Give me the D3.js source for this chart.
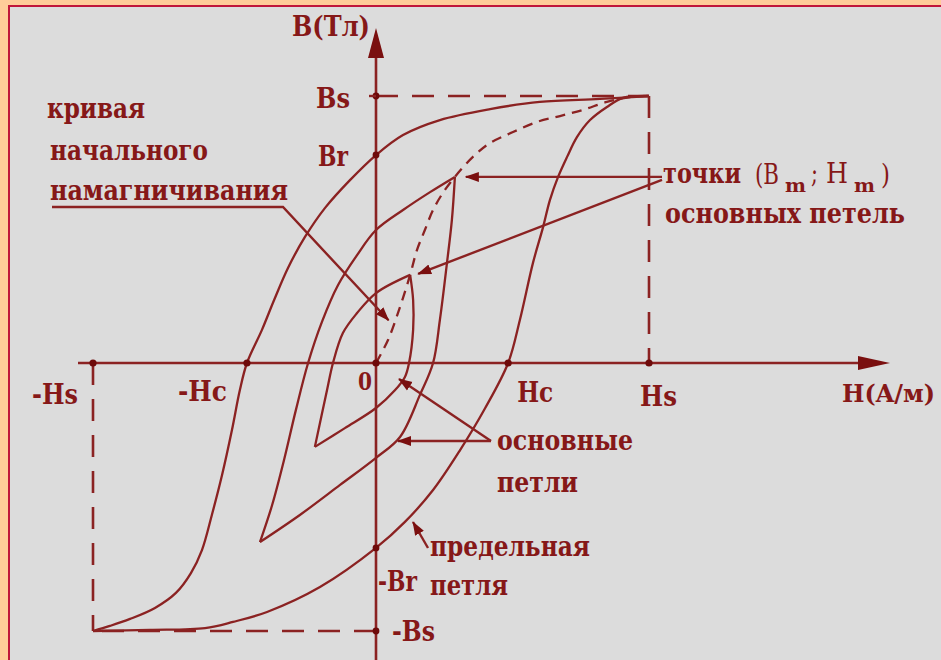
<!DOCTYPE html>
<html>
<head>
<meta charset="utf-8">
<script src="https://cdn.jsdelivr.net/npm/d3@7"></script>
<style>
  html, body { margin: 0; padding: 0; background: #FFCC99; }
  svg { display: block; }
</style>
</head>
<body>
<svg id="chart" width="941" height="660"></svg>
<script>
// Field strength H and induction B, in percent of saturation (Hs, Bs).

// limiting loop, descending branch (from +Bs to -Bs)
const limitDown = [[100,100],[82,98.9],[60,97.8],[41.8,95.1],[23.4,91],[9.9,85.4],[0,77.9],
  [-9.2,68.5],[-18,58.1],[-25.1,47.2],[-31.1,35.6],[-36,23.6],[-40.3,12.4],[-45.6,0],
  [-48.1,-10.1],[-50.9,-25],[-54.4,-41.8],[-58,-56.7],[-61.5,-69.8],[-65.4,-78.4],
  [-70.7,-85.8],[-78.1,-91.4],[-86.9,-95.5],[-94,-98.1],[-100,-100]];
// limiting loop, ascending branch (from -Bs to +Bs)
const limitUp = [[-100,-100],[-79.9,-99.6],[-60.4,-98.9],[-50.5,-96.6],[-38.5,-92.9],
  [-19.8,-83.6],[0,-69],[10.6,-59.3],[20.9,-47.4],[30.8,-32.5],[40,-16.8],[48.4,0],
  [52.7,16.1],[57.5,37.5],[61.2,50.9],[63.7,61],[66.7,69.7],[70,77.2],[73.6,84.6],
  [78.4,91],[84.6,95.9],[90.5,99.3],[100,100]];
// initial magnetization curve
const initialCurve = [[0,0],[4.4,8.6],[8.8,21],[12.5,33],[15,42.3],[17.9,49.8],[20.9,57.3],
  [24.5,63.7],[28.9,69.7],[35.5,77.2],[41.8,82.4],[50.2,86.5],[59,90.3],[67.4,92.5],
  [75.8,94.8],[84.6,97.8],[93,99.6],[100,100]];
// larger minor loop
const midDown = [[28.9,69.7],[19.8,64],[9.9,57.3],[0,49.8],[-6.7,40.4],[-13.4,29.2],
  [-19.1,15.4],[-24,0],[-28.3,-17.5],[-32.5,-36.2],[-36.7,-53],[-41,-66.8]];
const midUp = [[-41,-66.8],[-26.9,-56.7],[-12.7,-45.5],[0,-35.4],[8.8,-27.6],[16.1,-11.9],
  [20.9,0],[23.4,16.1],[26,37.5],[27.8,53.6],[28.9,69.7]];
// smaller minor loop
const smallDown = [[12.5,33],[0,26.2],[-6.7,18.7],[-11.7,11.2],[-15.2,0],[-17.3,-10.1],[-21.6,-31.3]];
const smallUp = [[-21.6,-31.3],[-11,-24.3],[0,-16.8],[7,-10.1],[10.6,-5.2],[12.1,0],
  [13.6,12.4],[13.6,23.6],[12.5,33]];

// axis marks
const hTickValues = [-100, -45.6, 48.4, 100];
const hTickLabels = ["-Hs", "-Hc", "Hc", "Hs"];
const bTickValues = [100, 77.9, -69, -100];
const bTickLabels = ["Bs", "Br", "-Br", "-Bs"];
const axisTitles = ["B(Тл)", "H(A/м)"];
const originLabel = "0";

// annotation texts
const initialLabel = ["кривая", "начального", "намагничивания"];
const tipsLabel = ["точки", "основных петель"];
const minorLabel = ["основные", "петли"];
const limitLabel = ["предельная", "петля"];

const INK = "#8B2222";
const TEXT = "#861818";
const FONT = "'DejaVu Serif', 'Liberation Serif', serif";

const svg = d3.select("#chart");

const x = d3.scaleLinear().domain([-100, 0, 100]).range([93, 376, 649]);
const y = d3.scaleLinear().domain([-100, 0, 100]).range([631, 363, 96]);

// frame
svg.append("rect").attr("width", 941).attr("height", 660).attr("fill", "#FFCC99");
svg.append("rect").attr("x", 9).attr("y", 6).attr("width", 950).attr("height", 670)
  .attr("fill", "#DCDCDC").attr("stroke", "#C0163A").attr("stroke-width", 2);

const defs = svg.append("defs");
defs.append("marker").attr("id", "tip")
  .attr("viewBox", "0 0 14 10").attr("refX", 13).attr("refY", 5)
  .attr("markerUnits", "userSpaceOnUse").attr("markerWidth", 14).attr("markerHeight", 11)
  .attr("orient", "auto")
  .append("path").attr("d", "M0,0 L14,5 L0,10 Z").attr("fill", "#7A0F0F");

// saturation rectangle (dashed)
const dash = svg.append("g").attr("stroke", INK).attr("stroke-width", 2.6)
  .attr("stroke-dasharray", "22,14").attr("fill", "none");
dash.append("line").attr("x1", x(0)).attr("y1", y(100)).attr("x2", x(100)).attr("y2", y(100));
dash.append("line").attr("x1", x(100)).attr("y1", y(100)).attr("x2", x(100)).attr("y2", y(0));
dash.append("line").attr("x1", x(-100)).attr("y1", y(0)).attr("x2", x(-100)).attr("y2", y(-100));
dash.append("line").attr("x1", x(0)).attr("y1", y(-100)).attr("x2", x(-100)).attr("y2", y(-100));

// axes
const ax = svg.append("g").attr("stroke", INK).attr("stroke-width", 2.6);
ax.append("line").attr("x1", x(-100) - 15).attr("y1", y(0)).attr("x2", 862).attr("y2", y(0));
ax.append("line").attr("x1", x(0)).attr("y1", 665).attr("x2", x(0)).attr("y2", 56);
svg.append("path").attr("fill", "#7A0F0F")
  .attr("d", `M890,${y(0)} L858,${y(0) - 7} L858,${y(0) + 7} Z`);
svg.append("path").attr("fill", "#7A0F0F")
  .attr("d", `M${x(0)},28 L${x(0) - 8},58 L${x(0) + 8},58 Z`);

// curves
const line = d3.line().x(d => x(d[0])).y(d => y(d[1])).curve(d3.curveCatmullRom.alpha(0.5));
const curves = svg.append("g").attr("fill", "none").attr("stroke", INK)
  .attr("stroke-width", 2.3).attr("stroke-linejoin", "round");
[limitDown, limitUp, midDown, midUp, smallDown, smallUp].forEach(c =>
  curves.append("path").attr("d", line(c)));
curves.append("path").attr("d", line(initialCurve)).attr("stroke-dasharray", "10,7");

// pointer lines
const ptr = svg.append("g").attr("fill", "none").attr("stroke", INK).attr("stroke-width", 2.4);
const midTip = midUp[midUp.length - 1];
const smallTip = smallUp[smallUp.length - 1];
ptr.append("polyline").attr("points", `52,207 283,207 ${x(4.6)},${y(16)}`)
  .attr("marker-end", "url(#tip)");
ptr.append("line").attr("x1", 662).attr("y1", y(midTip[1]))
  .attr("x2", x(midTip[0]) + 11).attr("y2", y(midTip[1])).attr("marker-end", "url(#tip)");
ptr.append("line").attr("x1", 662).attr("y1", y(midTip[1]) + 3)
  .attr("x2", x(smallTip[0]) + 8).attr("y2", y(smallTip[1]) - 1).attr("marker-end", "url(#tip)");
ptr.append("line").attr("x1", 491).attr("y1", 441).attr("x2", 398).attr("y2", 441)
  .attr("marker-end", "url(#tip)");
ptr.append("line").attr("x1", 491).attr("y1", 441).attr("x2", 399).attr("y2", 379)
  .attr("marker-end", "url(#tip)");
ptr.append("line").attr("x1", 428).attr("y1", 548).attr("x2", 413).attr("y2", 522)
  .attr("marker-end", "url(#tip)");

// marked points on the axes
const dots = svg.append("g").attr("fill", "#6E0A0A");
hTickValues.concat([0]).forEach(v =>
  dots.append("circle").attr("cx", x(v)).attr("cy", y(0)).attr("r", 3.6));
bTickValues.forEach(v =>
  dots.append("circle").attr("cx", x(0)).attr("cy", y(v)).attr("r", 3.4));
svg.append("line").attr("x1", x(0) - 7).attr("x2", x(0)).attr("y1", y(100)).attr("y2", y(100))
  .attr("stroke", INK).attr("stroke-width", 2.4);

// text
const txt = svg.append("g").attr("fill", TEXT).attr("font-family", FONT)
  .attr("font-size", 27).attr("font-weight", "bold");
function put(t, px, py, w, opts = {}) {
  const el = txt.append("text").attr("x", px).attr("y", py).text(t)
    .attr("textLength", w).attr("lengthAdjust", "spacingAndGlyphs");
  if (opts.size) el.attr("font-size", opts.size);
  if (opts.weight) el.attr("font-weight", opts.weight);
  return el;
}

// axis titles
put(axisTitles[0], 292, 36, 78, { size: 28 });
put(axisTitles[1], 842, 402, 93, { size: 24 });
put(originLabel, 358, 390, 14, { size: 24 });

// H-axis marks
const hLabelDx = [-61, -69, 9, -9];
const hLabelW = [46, 49, 36, 37];
const hLabelY = [404, 401, 402, 406];
hTickValues.forEach((v, i) => put(hTickLabels[i], x(v) + hLabelDx[i], hLabelY[i], hLabelW[i]));

// B-axis marks
const bLabelX = [316, 318, 378, 392];
const bLabelW = [34, 30, 39, 43];
const bLabelDy = [12, 11, 43, 10];
bTickValues.forEach((v, i) => put(bTickLabels[i], bLabelX[i], y(v) + bLabelDy[i], bLabelW[i]));

// annotations
put(initialLabel[0], 47, 118, 98);
put(initialLabel[1], 50, 160, 158);
put(initialLabel[2], 50, 200, 238);

// "точки (Bm; Hm)" as one text run with positioned pieces
const tips = txt.append("text").attr("y", 183);
const pieces = [
  { t: tipsLabel[0], x: 663, y: 183, w: 78 },
  { t: "(B", x: 755, y: 184, w: 24, weight: "normal" },
  { t: "m", x: 785, y: 192, w: 21, size: 19 },
  { t: ";", x: 811, y: 183, w: 7, weight: "normal" },
  { t: "H", x: 826, y: 183, w: 22, weight: "normal" },
  { t: "m", x: 854, y: 192, w: 21, size: 19 },
  { t: ")", x: 881, y: 184, w: 9, weight: "normal" }
];
pieces.forEach(p => {
  const s = tips.append("tspan").attr("x", p.x).attr("y", p.y).text(p.t)
    .attr("textLength", p.w).attr("lengthAdjust", "spacingAndGlyphs");
  if (p.size) s.attr("font-size", p.size);
  if (p.weight) s.attr("font-weight", p.weight);
});
put(tipsLabel[1], 665, 223, 240);

put(minorLabel[0], 497, 450, 136);
put(minorLabel[1], 497, 492, 81);
put(limitLabel[0], 430, 556, 160);
put(limitLabel[1], 430, 595, 78);
</script>
</body>
</html>
